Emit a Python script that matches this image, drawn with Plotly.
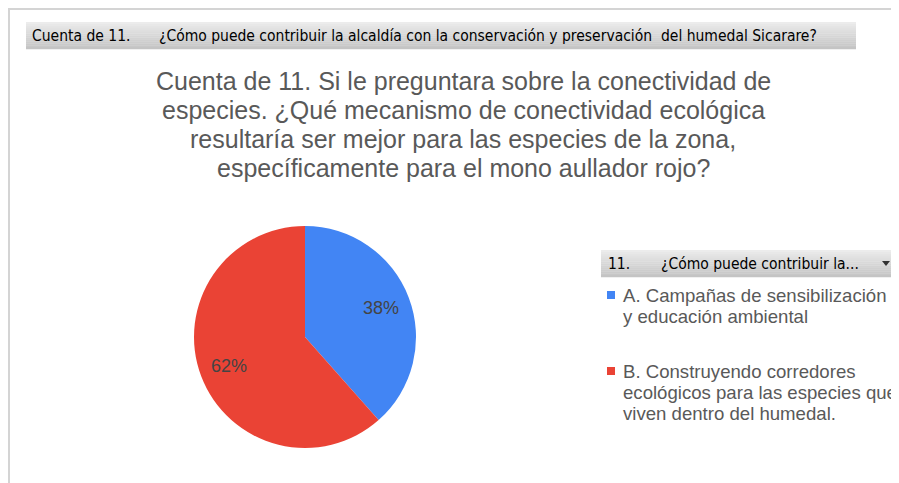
import math
import plotly.graph_objects as go

# Data
labels = [
    "A. Campañas de sensibilización y educación ambiental",
    "B. Construyendo corredores ecológicos para las especies que viven dentro del humedal.",
]
legend_lines = [
    ["A. Campañas de sensibilización", "y educación ambiental"],
    ["B. Construyendo corredores", "ecológicos para las especies que", "viven dentro del humedal."],
]
counts = [5, 8]
colors = ["#4285F4", "#EA4335"]

title_lines = [
    "Cuenta de 11. Si le preguntara sobre la conectividad de",
    "especies. ¿Qué mecanismo de conectividad ecológica",
    "resultaría ser mejor para las especies de la zona,",
    "específicamente para el mono aullador rojo?",
]
value_field = "Cuenta de 11."
row_field = "¿Cómo puede contribuir la alcaldía con la conservación y preservación  del humedal Sicarare?"
legend_field_num = "11."
legend_field = "¿Cómo puede contribuir la..."

# page body adds an 8px margin, so the figure is drawn from (8, 8)
OFF = 8
W, H = 899 - OFF, 483 - OFF


def px(x):
    return (x - OFF) / W


def py(y):
    return 1 - (y - OFF) / H


# pie placement (pixels)
cx, cy, R = 305, 337, 111

fig = go.Figure(go.Pie(
    labels=labels,
    values=counts,
    sort=False,
    direction="clockwise",
    rotation=0,
    marker=dict(colors=colors, line=dict(width=0)),
    textinfo="none",
    domain=dict(x=[px(cx - R), px(cx + R)], y=[py(cy + R), py(cy - R)]),
    showlegend=False,
    hoverinfo="label+value+percent",
))

shapes = []
annotations = []

# percentage labels placed at each slice's mid-angle
total = sum(counts)
start = 0.0
for v in counts:
    frac = v / total
    mid = (start + frac / 2) * 2 * math.pi
    start += frac
    lx = cx + 0.73 * R * math.sin(mid)
    ly = cy - 0.73 * R * math.cos(mid)
    annotations.append(dict(x=px(lx), y=py(ly), xref="paper", yref="paper",
                            xanchor="center", yanchor="middle", showarrow=False,
                            text=f"{round(frac * 100)}%",
                            font=dict(family="Liberation Sans, Arial", size=18, color="#444444")))

# outer frame (top and left edges)
shapes.append(dict(type="line", xref="paper", yref="paper",
                   x0=px(8), x1=px(899), y0=py(9), y1=py(9),
                   line=dict(color="#d4d4d4", width=2)))
shapes.append(dict(type="line", xref="paper", yref="paper",
                   x0=px(9), x1=px(9), y0=py(8), y1=py(483),
                   line=dict(color="#d4d4d4", width=2)))


def gray_bar(x0, x1, y0, y1):
    # approximate vertical gradient with thin strips
    n = 14
    top, bot = 236, 196
    h = (y1 - y0) / n
    for i in range(n):
        c = int(top + (bot - top) * i / (n - 1))
        shapes.append(dict(type="rect", xref="paper", yref="paper",
                           x0=px(x0), x1=px(x1), y0=py(y0 + (i + 1) * h + 0.3),
                           y1=py(y0 + i * h),
                           fillcolor=f"rgb({c},{c},{c})", line=dict(width=0),
                           layer="below"))


gray_bar(26, 856, 22, 49)
gray_bar(601, 899, 250, 277)

hdr_font = dict(family="Liberation Sans Narrow, DejaVu Sans Condensed, Arial Narrow",
                size=15.5, color="#000000")
for txt, x, y in [(value_field, 30, 36), (row_field, 157, 36),
                  (legend_field_num, 606, 264), (legend_field, 659, 264)]:
    annotations.append(dict(x=px(x), y=py(y), xref="paper", yref="paper",
                            xanchor="left", yanchor="middle", showarrow=False,
                            text=txt, font=hdr_font))
# dropdown arrow
shapes.append(dict(type="path", xref="paper", yref="paper",
                   path=f"M {px(882)},{py(261)} L {px(890)},{py(261)} L {px(886)},{py(266)} Z",
                   fillcolor="#333333", line=dict(width=0)))

# chart title, one line per annotation for tight line spacing
for i, line in enumerate(title_lines):
    annotations.append(dict(x=px(463), y=py(81 + i * 29), xref="paper", yref="paper",
                            xanchor="center", yanchor="middle", showarrow=False,
                            text=line,
                            font=dict(family="Liberation Sans, Arial", size=25, color="#595959")))

# legend
legend_tops = [295, 371]
for lines, col, top in zip(legend_lines, colors, legend_tops):
    shapes.append(dict(type="rect", xref="paper", yref="paper",
                       x0=px(607), x1=px(615), y0=py(top + 4), y1=py(top - 4),
                       fillcolor=col, line=dict(width=0)))
    for j, line in enumerate(lines):
        annotations.append(dict(x=px(621), y=py(top + j * 21), xref="paper", yref="paper",
                                xanchor="left", yanchor="middle", showarrow=False,
                                text=line,
                                font=dict(family="Liberation Sans, Arial", size=18.6, color="#595959")))

fig.update_layout(
    width=W, height=H,
    margin=dict(l=0, r=0, t=0, b=0),
    paper_bgcolor="white",
    plot_bgcolor="white",
    shapes=shapes,
    annotations=annotations,
)

fig.write_html("out.html")
